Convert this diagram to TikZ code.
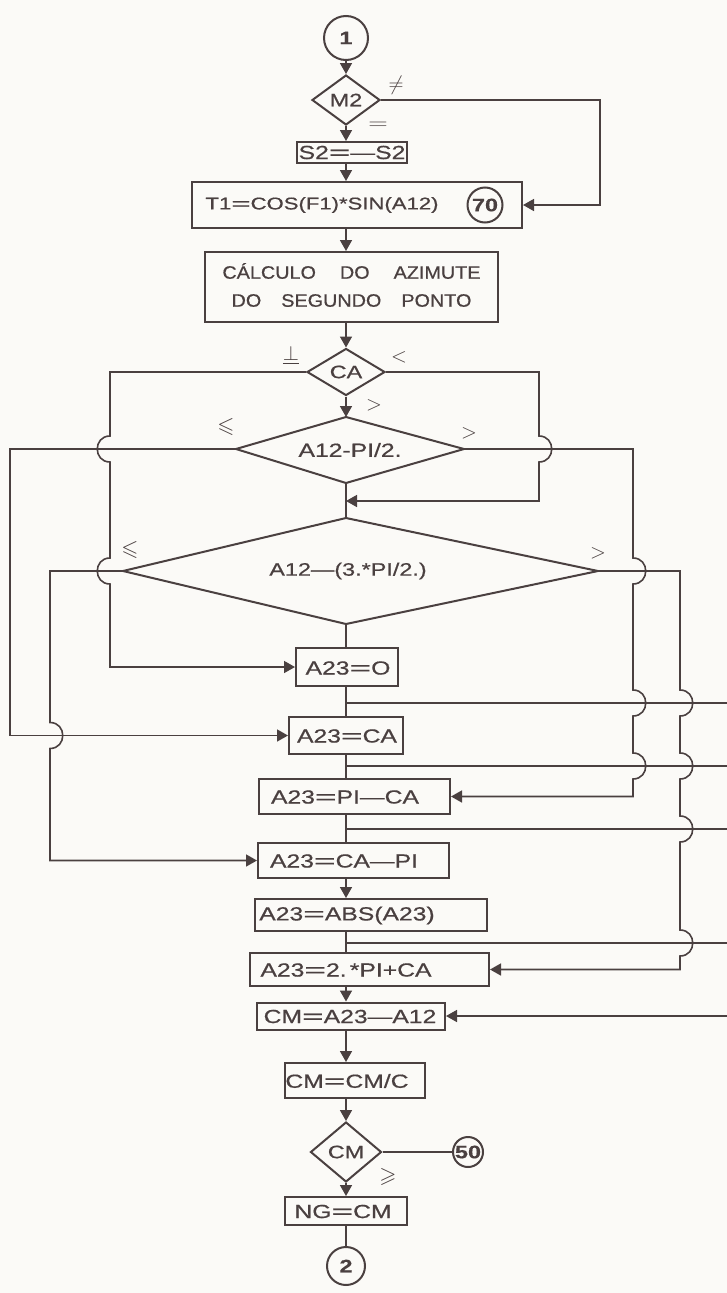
\documentclass[tikz,border=0pt]{standalone}
\usepackage{fontspec}
\usepackage{amssymb}
\usepackage{graphicx}
\setmainfont{Liberation Sans}
\newfontfamily\boxfont[FakeStretch=1.3,FakeBold=0.6]{Liberation Sans}
\newfontfamily\calcfont[FakeStretch=1.1,FakeBold=0.6]{Liberation Sans}
\usetikzlibrary{arrows.meta,shapes.geometric}
\definecolor{ink}{RGB}{74,64,64}
\definecolor{paper}{RGB}{251,250,247}
\newcommand{\feq}{\scalebox{1.5}[1]{=}}
\tikzset{
  box/.style={draw, rectangle, line width=2pt, inner sep=0pt},
  txt/.style={inner sep=0pt, font=\boxfont\fontsize{19}{22}\selectfont},
  dec/.style={draw, diamond, line width=2pt, inner sep=0pt, font=\boxfont\fontsize{18}{20}\selectfont},
  conn/.style={draw, circle, line width=2pt, inner sep=0pt, font=\boxfont\bfseries\fontsize{18}{18}\selectfont},
  lbl/.style={inner sep=0pt, font=\fontsize{22}{22}\selectfont},
  ln/.style={line width=1.6pt},
  arr/.style={line width=1.6pt, -{Triangle[length=11pt,width=12pt]}},
}
\begin{document}
\begin{tikzpicture}[x=1pt,y=-1pt,color=ink]
\fill[paper] (0,0) rectangle (727,1293);
\useasboundingbox (0,0) rectangle (727,1293);
\coordinate (ax) at (346,0);

% ---- top part
\node[conn, minimum size=44pt] (c1) at (346,38) {1};
\node[dec, aspect=1.36, minimum width=68pt, minimum height=50pt] (m2) at (346,100) {M2};
\node[box, minimum width=110pt, minimum height=21pt] (s2) at (352,152.5) {};
\node[txt] (s2t) at (352,152.5) {S2\feq—S2};
\node[box, minimum width=330pt, minimum height=46pt] (t1) at (357,205) {};
\node[txt, font=\boxfont\fontsize{17}{20}\selectfont] (t1t) at (322,205) {T1\feq COS(F1)*SIN(A12)};
\node[conn, minimum size=35pt] (c70) at (485,205) {70};
\node[box, minimum width=293pt, minimum height=70pt] (calc) at (351.5,287) {};
\node[inner sep=0pt, align=center, font=\calcfont\fontsize{18}{28}\selectfont] (calct) at (351.5,285)
  {CÁLCULO\hspace{24pt}DO\hspace{24pt}AZIMUTE\\DO\hspace{20pt}SEGUNDO\hspace{20pt}PONTO};

% ---- decisions
\node[dec, aspect=1.66, minimum width=78pt, minimum height=47pt] (ca) at (346,372) {CA};
\coordinate (d1t) at (346,417);
\coordinate (d1l) at (236,449);
\coordinate (d1r) at (464,449);
\coordinate (d1b) at (346,483);
\draw[line width=2pt] (d1t) -- (d1r) -- (d1b) -- (d1l) -- cycle;
\node[txt] (d1) at (350,450) {A12-PI/2.};
\coordinate (d2t) at (346,518);
\coordinate (d2l) at (123,571);
\coordinate (d2r) at (598,571);
\coordinate (d2b) at (346,624);
\draw[line width=2pt] (d2t) -- (d2r) -- (d2b) -- (d2l) -- cycle;
\node[txt, font=\boxfont\fontsize{18}{20}\selectfont] (d2) at (348,571) {A12—(3.*PI/2.)};
\coordinate (j1) at (346,501);

% ---- assignment boxes
\node[box, minimum width=102pt, minimum height=38pt] (a0) at (347,667) {};
\node[txt] (a0t) at (348,668) {A23\feq O};
\node[box, minimum width=114pt, minimum height=37pt] (a1) at (346,735.5) {};
\node[txt] (a1t) at (347,736) {A23\feq CA};
\node[box, minimum width=191pt, minimum height=35pt] (a2) at (354.5,796.5) {};
\node[txt] (a2t) at (345,797) {A23\feq PI—CA};
\node[box, minimum width=191pt, minimum height=35pt] (a3) at (353.5,860.5) {};
\node[txt] (a3t) at (344,861) {A23\feq CA—PI};
\node[box, minimum width=232pt, minimum height=32pt] (a4) at (371,915) {};
\node[txt] (a4t) at (347,915.5) {A23\feq ABS(A23)};
\node[box, minimum width=239pt, minimum height=33pt] (a5) at (369.5,969.5) {};
\node[txt] (a5t) at (346,970) {A23\feq 2.\,*PI+CA};
\node[box, minimum width=188pt, minimum height=27pt] (cm1) at (351,1016) {};
\node[txt] (cm1t) at (350,1016.5) {CM\feq A23—A12};
\node[box, minimum width=140pt, minimum height=35pt] (cm2) at (355,1080.5) {};
\node[txt] (cm2t) at (347,1081) {CM\feq CM/C};
\node[dec, aspect=1.18, minimum width=71pt, minimum height=60pt] (cmd) at (346,1152) {CM};
\node[conn, minimum size=30pt] (c50) at (468,1152) {50};
\node[box, minimum width=122pt, minimum height=28pt] (ng) at (346,1211) {};
\node[txt] (ngt) at (343,1211.5) {NG\feq CM};
\node[conn, minimum size=38pt] (c2) at (346,1266) {2};

% ---- exits to the right edge
\coordinate (x1) at (727,703);
\coordinate (x2) at (727,766);
\coordinate (x3) at (727,829);
\coordinate (x4) at (727,943);
\coordinate (x5) at (727,1016);

% ---- main axis connectors
\draw[arr] (c1) -- (m2);
\draw[arr] (m2.south) -- (ax |- s2.north);
\draw[arr] (ax |- s2.south) -- (ax |- t1.north);
\draw[arr] (ax |- t1.south) -- (ax |- calc.north);
\draw[arr] (ax |- calc.south) -- (ca.north);
\draw[arr] (ca.south) -- (d1t);
\draw[ln] (d1b) -- (d2t);
\draw[ln] (d2b) -- (ax |- a0.north);
\draw[ln] (ax |- a0.south) -- (ax |- a1.north);
\draw[ln] (ax |- a1.south) -- (ax |- a2.north);
\draw[ln] (ax |- a2.south) -- (ax |- a3.north);
\draw[arr] (ax |- a3.south) -- (ax |- a4.north);
\draw[ln] (ax |- a4.south) -- (ax |- a5.north);
\draw[arr] (ax |- a5.south) -- (ax |- cm1.north);
\draw[arr] (ax |- cm1.south) -- (ax |- cm2.north);
\draw[arr] (ax |- cm2.south) -- (cmd.north);
\draw[ln] (cmd.east) -- (c50);
\draw[arr] (cmd.south) -- (ax |- ng.north);
\draw[ln] (ax |- ng.south) -- (c2);

% ---- branches
\draw[arr] (m2.east) -- (600,100) |- (t1.east);
\draw[arr] (ca.west) -- (110,372) -- (110,436) .. controls +(-17,0) and +(-17,0) .. (110,462)
  -- (110,558) .. controls +(-17,0) and +(-17,0) .. (110,584) |- (a0.west);
\draw[arr] (ca.east) -- (539,372) -- (539,436) .. controls +(17,0) and +(17,0) .. (539,462)
  -- (539,501) -- (j1);
\draw[arr] (d1l) -- (10,449) |- (a1.west);
\draw[arr] (d1r) -- (633,449) -- (633,558) .. controls +(17,0) and +(17,0) .. (633,584)
  -- (633,690) .. controls +(17,0) and +(17,0) .. (633,716)
  -- (633,753) .. controls +(17,0) and +(17,0) .. (633,779) |- (a2.east);
\draw[arr] (d2l) -- (50,571) -- (50,722.5) .. controls +(17,0) and +(17,0) .. (50,748.5) |- (a3.west);
\draw[arr] (d2r) -- (680,571) -- (680,690) .. controls +(17,0) and +(17,0) .. (680,716)
  -- (680,753) .. controls +(17,0) and +(17,0) .. (680,779)
  -- (680,816) .. controls +(17,0) and +(17,0) .. (680,842)
  -- (680,930) .. controls +(17,0) and +(17,0) .. (680,956) |- (a5.east);
\draw[ln] (ax |- x1) -- (x1);
\draw[ln] (ax |- x2) -- (x2);
\draw[ln] (ax |- x3) -- (x3);
\draw[ln] (ax |- x4) -- (x4);
\draw[arr] (x5) -- (cm1.east);

% ---- condition labels
\node[lbl] (lne) at (396,85) {$\neq$};
\node[lbl] (lmeq) at (378,126) {\scalebox{1.3}[1]{$=$}};
\node[lbl] (lcaeq) at (291,355) {$\underline{\perp}$};
\node[lbl] (lcalt) at (399,357) {$<$};
\node[lbl] (lcagt) at (374,405) {$>$};
\node[lbl] (ld1le) at (226,427) {$\leqslant$};
\node[lbl] (ld1gt) at (469,433) {$>$};
\node[lbl] (ld2le) at (130,550) {$\leqslant$};
\node[lbl] (ld2gt) at (598,553) {$>$};
\node[lbl] (lcmge) at (388,1177) {$\geqslant$};
\end{tikzpicture}
\end{document}
